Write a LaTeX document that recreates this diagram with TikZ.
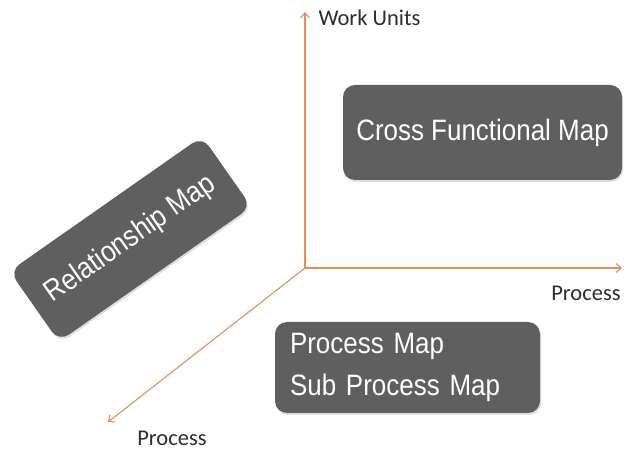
\documentclass[tikz,border=0pt]{standalone}
\usepackage{fontspec}
\setmainfont{Liberation Sans}
\newfontfamily\boxfont[FakeStretch=0.88]{Liberation Sans}
\newfontfamily\labelfont{Carlito}
\usetikzlibrary{arrows.meta,shadows}
\definecolor{axisorange}{RGB}{232,140,90}
\definecolor{mapgray}{RGB}{95,95,95}
\definecolor{labelgray}{RGB}{45,45,45}
\begin{document}
\begin{tikzpicture}[x=1pt, y=1pt,
    axis/.style={draw=axisorange, line width=1.1pt, -{Straight Barb[length=5pt, width=9pt]}},
    mapbox/.style={fill=mapgray, text=white, rounded corners=12pt, font=\boxfont\fontsize{29.5}{42}\selectfont,
        drop shadow={opacity=0.25, shadow xshift=1pt, shadow yshift=-2pt}},
    axislabel/.style={text=labelgray, font=\labelfont\fontsize{22.5}{26}\selectfont}]
    \useasboundingbox (0, 0) rectangle (624, 450);

    % Axes
    \coordinate (O) at (305, 182);
    \coordinate (up) at (305, 438);
    \coordinate (right) at (622, 182);
    \coordinate (down) at (108, 28);
    \draw[axis] (O) -- (up);
    \draw[axis] (O) -- (right);
    \draw[axis] (O) -- (down);

    % Axis labels
    \node[axislabel, anchor=west] (work) at (315, 432) {Work Units};
    \node[axislabel] (procright) at (586, 157) {Process};
    \node[axislabel] (procdown) at (172, 12) {Process};

    % Map boxes
    \node[mapbox, minimum width=279pt, minimum height=95pt] (cross) at (482.5, 317.5) {Cross Functional Map};
    \node[mapbox, rotate=35, minimum width=235pt, minimum height=86pt] (relation) at (130.5, 211) {Relationship Map};
    \node[mapbox, text width=235pt, inner xsep=15pt, align=left, minimum height=91pt] (process) at (407.5, 82.5)
        {Process Map\\Sub Process Map};
\end{tikzpicture}
\end{document}
